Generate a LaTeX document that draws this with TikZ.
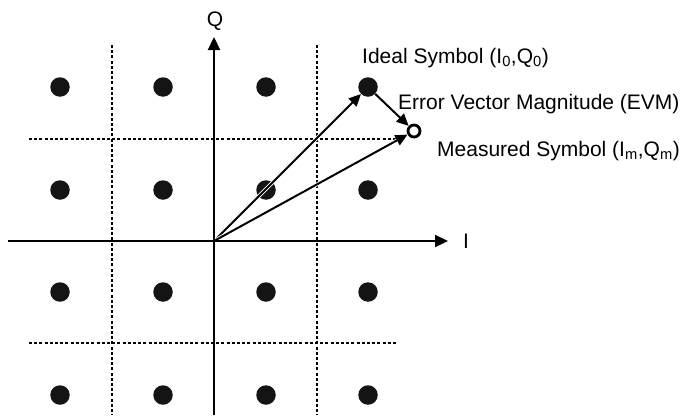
\documentclass[tikz,border=0pt]{standalone}
\usepackage{fontspec}
\setmainfont{Liberation Sans}
\usetikzlibrary{arrows.meta}
\begin{document}
\begin{tikzpicture}[x=1pt, y=-1pt,
  every node/.style={font=\fontsize{21}{25}\selectfont},
  dot/.style={circle, fill=black!92, inner sep=0pt, minimum size=19.5pt},
  meas/.style={circle, draw, line width=2.8pt, fill=white, inner sep=0pt, minimum size=12pt},
  grid/.style={line width=1.7pt, dash pattern=on 3pt off 2.2pt},
  axis/.style={line width=2.2pt, -{Triangle[length=13pt,width=12pt]}},
  vec/.style={line width=2pt, -{Triangle[length=12pt,width=11pt]},
    preaction={draw=white, line width=3.8pt, arrows=-}},
  lbl/.style={anchor=base west, inner sep=0pt}]

\useasboundingbox (0,0) rectangle (690,415);

% decision boundaries
\draw[grid] (112,45) -- (112,415);
\draw[grid] (317,45) -- (317,415);
\draw[grid] (29,139) -- (403,139);
\draw[grid] (29,343) -- (397,343);

% constellation points
\foreach \i/\x in {1/60,2/163,3/266,4/368}
  \foreach \j/\y in {1/87,2/190,3/292,4/395}
    \node[dot] (d\i\j) at (\x,\y) {};

\node[meas] (ms) at (414,131) {};
\coordinate (o) at (214,241);

% symbol vectors
\draw[vec] (o) -- (d41);
\draw[vec] (o) -- (ms);
\draw[vec] (d41) -- (ms);

% axes
\coordinate (il) at (8,241);
\coordinate (ir) at (448,241);
\coordinate (qb) at (214,415);
\coordinate (qt) at (214,37);
\draw[axis] (il) -- (ir);
\draw[axis] (qb) -- (qt);

\node[anchor=base, inner sep=0pt] (qlab) at (215,26) {Q};
\node[lbl] (ilab) at (463,248) {I};
\node[lbl] (ideal) at (362,63) {Ideal Symbol (I\textsubscript{0},Q\textsubscript{0})};
\node[lbl] (evm) at (398,109) {Error Vector Magnitude (EVM)};
\node[lbl] (mlab) at (437,156) {Measured Symbol (I\textsubscript{m},Q\textsubscript{m})};

\end{tikzpicture}
\end{document}
